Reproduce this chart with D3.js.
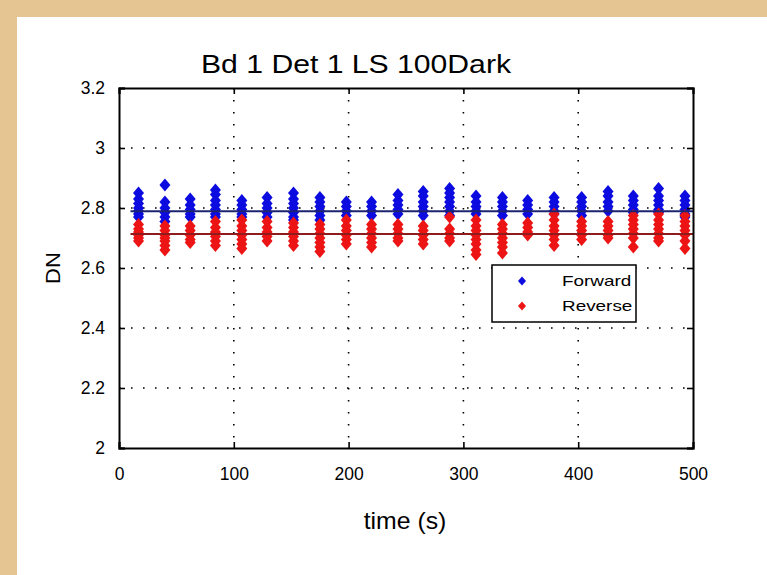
<!DOCTYPE html>
<html><head><meta charset="utf-8">
<script src="https://cdn.jsdelivr.net/npm/d3@7"></script>
<style>
html,body{margin:0;padding:0;background:#e3c391;}
svg{display:block;}
text{font-family:"Liberation Sans",Arial,sans-serif;fill:#000;}
</style></head>
<body>
<script>
// ---- data ----
const title = "Bd 1 Det 1 LS 100Dark";
const xLabel = "time (s)";
const yLabel = "DN";
const xTicks = [0, 100, 200, 300, 400, 500];
const yTicks = [2, 2.2, 2.4, 2.6, 2.8, 3, 3.2];
const seriesNames = ["Forward", "Reverse"];
const times = [17, 40, 62, 84, 107, 129, 152, 175, 198, 220, 243, 265, 288, 311, 334, 356, 379, 403, 426, 448, 470, 493];
const forwardValues = [
  [2.850, 2.830, 2.815, 2.800, 2.790, 2.780, 2.770],
  [2.877, 2.820, 2.800, 2.785, 2.770, 2.755],
  [2.830, 2.810, 2.795, 2.780, 2.770],
  [2.860, 2.845, 2.825, 2.810, 2.795, 2.780, 2.770],
  [2.825, 2.810, 2.795, 2.780, 2.770],
  [2.835, 2.815, 2.800, 2.785, 2.770],
  [2.850, 2.830, 2.815, 2.800, 2.785, 2.770, 2.760],
  [2.835, 2.820, 2.805, 2.790, 2.775, 2.760],
  [2.820, 2.805, 2.790, 2.775],
  [2.820, 2.805, 2.790, 2.775],
  [2.845, 2.825, 2.810, 2.795, 2.780],
  [2.855, 2.840, 2.820, 2.805, 2.790, 2.775],
  [2.865, 2.850, 2.835, 2.820, 2.805, 2.790, 2.775],
  [2.840, 2.820, 2.805, 2.790, 2.780],
  [2.835, 2.820, 2.805, 2.790, 2.775],
  [2.825, 2.810, 2.795, 2.780],
  [2.835, 2.820, 2.805, 2.790, 2.780],
  [2.835, 2.820, 2.805, 2.790, 2.775],
  [2.855, 2.840, 2.820, 2.805, 2.790],
  [2.840, 2.825, 2.810, 2.795, 2.785],
  [2.865, 2.840, 2.825, 2.810, 2.795, 2.785],
  [2.840, 2.825, 2.810, 2.795, 2.780, 2.770]
];
const reverseValues = [
  [2.745, 2.730, 2.720, 2.710, 2.700, 2.690],
  [2.740, 2.725, 2.710, 2.700, 2.690, 2.675, 2.660],
  [2.740, 2.725, 2.710, 2.695, 2.685],
  [2.755, 2.735, 2.720, 2.705, 2.690, 2.675],
  [2.760, 2.740, 2.725, 2.710, 2.695, 2.680, 2.665],
  [2.755, 2.735, 2.720, 2.705, 2.690],
  [2.750, 2.735, 2.720, 2.705, 2.690, 2.675],
  [2.745, 2.730, 2.715, 2.700, 2.685, 2.670, 2.655],
  [2.760, 2.740, 2.725, 2.710, 2.695, 2.680],
  [2.745, 2.730, 2.715, 2.700, 2.685, 2.670],
  [2.745, 2.730, 2.715, 2.700, 2.690],
  [2.740, 2.725, 2.710, 2.695, 2.680],
  [2.770, 2.730, 2.715, 2.700, 2.690],
  [2.760, 2.740, 2.725, 2.710, 2.695, 2.680, 2.660, 2.645],
  [2.745, 2.730, 2.715, 2.700, 2.685, 2.670, 2.650],
  [2.750, 2.735, 2.720, 2.710],
  [2.780, 2.760, 2.740, 2.725, 2.710, 2.695, 2.675],
  [2.755, 2.740, 2.725, 2.710, 2.695],
  [2.755, 2.740, 2.725, 2.710, 2.700],
  [2.775, 2.760, 2.745, 2.730, 2.715, 2.700, 2.670],
  [2.780, 2.760, 2.745, 2.730, 2.715, 2.700, 2.690],
  [2.775, 2.755, 2.740, 2.725, 2.710, 2.690, 2.665]
];
const meanValues = [2.789, 2.713];
const meanSpan = [10, 500];

// ---- layout ----
const W = 767, H = 575;
const colors = ["#0c0ce0", "#ec1414"];
const lineColors = ["#1c2470", "#8e1c1c"];

const svg = d3.select("body").append("svg").attr("width", W).attr("height", H);
svg.append("rect").attr("width", W).attr("height", H).attr("fill", "#e5c693");
svg.append("rect").attr("x", 17).attr("y", 17).attr("width", W - 17).attr("height", H - 17).attr("fill", "#ffffff");

const x = d3.scaleLinear().domain([0, 500]).range([119, 693]);
const y = d3.scaleLinear().domain([2, 3.2]).range([448, 88]);

// grid
const grid = svg.append("g");
grid.selectAll(".gx").data(xTicks.slice(1, -1)).join("line")
  .attr("x1", d => x(d)).attr("x2", d => x(d)).attr("y1", y(3.2)).attr("y2", y(2))
  .attr("stroke", "#000").attr("stroke-width", 1.6).attr("stroke-dasharray", "1.6,10.4");
grid.selectAll(".gy").data(yTicks.slice(1, -1)).join("line")
  .attr("x1", x(0)).attr("x2", x(500)).attr("y1", d => y(d)).attr("y2", d => y(d))
  .attr("stroke", "#000").attr("stroke-width", 1.6).attr("stroke-dasharray", "1.6,10.4");

// points
const diamond = "M0,-6.5L5.5,0L0,6.5L-5.5,0Z";
const allSeries = [forwardValues, reverseValues];
allSeries.forEach((vals, si) => {
  const pts = [];
  vals.forEach((arr, i) => arr.forEach(v => pts.push([times[i], v])));
  svg.append("g").selectAll("path").data(pts).join("path")
    .attr("d", diamond)
    .attr("transform", d => `translate(${x(d[0])},${y(d[1])})`)
    .attr("fill", colors[si]);
});
// mean lines
const line = d3.line().x(d => x(d[0])).y(d => y(d[1]));
meanValues.forEach((m, si) => {
  svg.append("path").attr("d", line(meanSpan.map(t => [t, m])))
    .attr("stroke", lineColors[si]).attr("stroke-width", 2).attr("fill", "none");
});

// axes
const axB = svg.append("g").attr("transform", `translate(0,${y(2)})`)
  .call(d3.axisBottom(x).tickValues(xTicks).tickSize(-6).tickPadding(20).tickFormat(d3.format("d")));
const axT = svg.append("g").attr("transform", `translate(0,${y(3.2)})`)
  .call(d3.axisTop(x).tickValues(xTicks).tickSize(-6).tickFormat(""));
const axL = svg.append("g").attr("transform", `translate(${x(0)},0)`)
  .call(d3.axisLeft(y).tickValues(yTicks).tickSize(-6).tickPadding(14).tickFormat(d => d3.format("")(+d.toFixed(1))));
const axR = svg.append("g").attr("transform", `translate(${x(500)},0)`)
  .call(d3.axisRight(y).tickValues(yTicks).tickSize(-6).tickFormat(""));
[axB, axT, axL, axR].forEach(a => {
  a.select(".domain").attr("stroke", "#000").attr("stroke-width", 2);
  a.selectAll(".tick line").attr("stroke", "#000").attr("stroke-width", 1.6);
  a.selectAll("text").attr("fill", "#000").attr("font-size", 17.5)
    .attr("font-family", "Liberation Sans, Arial, sans-serif");
});

// titles
svg.append("text").attr("transform", "translate(356,73) scale(1.16,1)")
  .attr("text-anchor", "middle").attr("font-size", 26).text(title);
svg.append("text").attr("transform", "translate(405,529) scale(1.08,1)")
  .attr("text-anchor", "middle").attr("font-size", 23).text(xLabel);
svg.append("text").attr("transform", "translate(60,268) rotate(-90) scale(1.1,1)")
  .attr("text-anchor", "middle").attr("font-size", 20).text(yLabel);

// legend
const lg = svg.append("g").attr("transform", "translate(492,265)");
lg.append("rect").attr("width", 144).attr("height", 57).attr("fill", "#fff").attr("stroke", "#000").attr("stroke-width", 1.5);
seriesNames.forEach((n, i) => {
  lg.append("path").attr("d", "M0,-4.5L4,0L0,4.5L-4,0Z").attr("transform", `translate(30,${16 + i * 25})`).attr("fill", colors[i]);
  lg.append("text").attr("transform", `translate(70,${21 + i * 25}) scale(1.35,1)`).attr("font-size", 14).text(n);
});
</script>
</body></html>
